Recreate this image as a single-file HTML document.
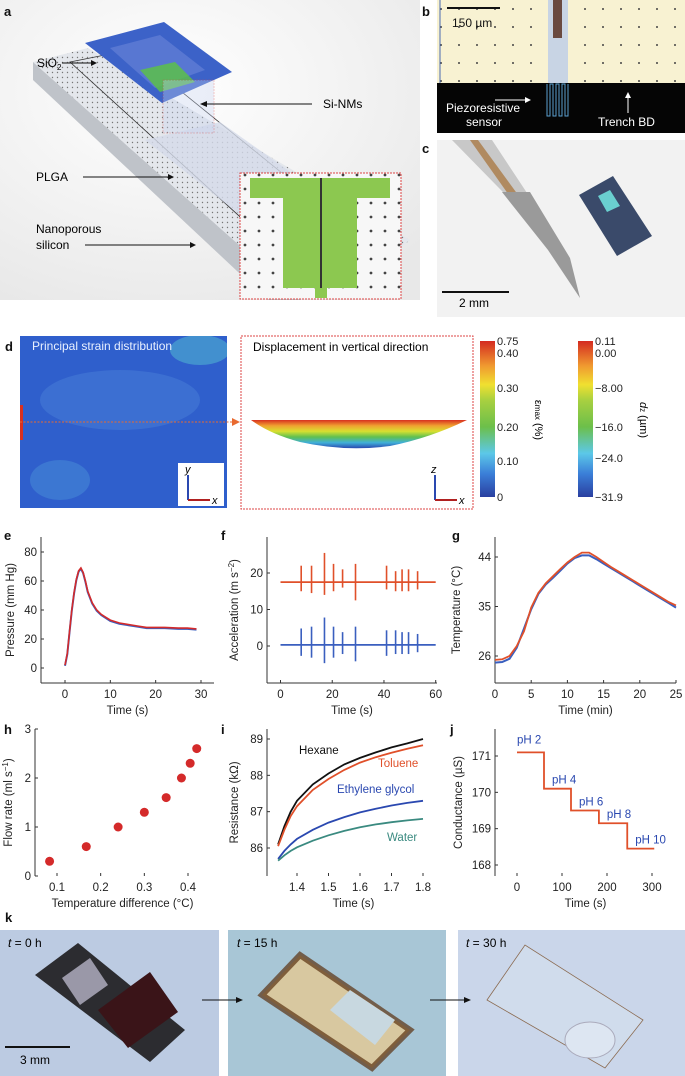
<!DOCTYPE html>
<html><head><meta charset="utf-8">
<style>
html,body{margin:0;padding:0;background:#fff;}
svg{display:block;font-family:"Liberation Sans",sans-serif;}
.tk{font-size:11px;fill:#222;}
.pl{font-size:13px;font-weight:bold;fill:#111;}
</style></head>
<body>
<svg id="fig" width="685" height="1076" viewBox="0 0 685 1076" xmlns="http://www.w3.org/2000/svg">
<defs>
<pattern id="dots" width="5" height="5" patternUnits="userSpaceOnUse"><rect width="5" height="5" fill="#e4e7ec"/><circle cx="2.5" cy="2.5" r="0.7" fill="#777"/></pattern>
<pattern id="dots2" width="14" height="14" patternUnits="userSpaceOnUse"><rect width="14" height="14" fill="#f7f7f7"/><circle cx="7" cy="7" r="1.4" fill="#444"/></pattern>
<pattern id="bdots" width="18" height="18" patternUnits="userSpaceOnUse"><rect width="18" height="18" fill="#f8f2d2"/><circle cx="9" cy="9" r="1" fill="#444"/></pattern>
<linearGradient id="cbar" x1="0" y1="1" x2="0" y2="0">
<stop offset="0" stop-color="#2a3fa0"/><stop offset="0.15" stop-color="#3b7fd8"/><stop offset="0.28" stop-color="#5cc8e8"/><stop offset="0.45" stop-color="#6cbf4a"/><stop offset="0.62" stop-color="#a8d040"/><stop offset="0.72" stop-color="#f0e030"/><stop offset="0.84" stop-color="#f09a30"/><stop offset="1" stop-color="#d42a20"/></linearGradient>
<linearGradient id="bowl" x1="0" y1="0" x2="0" y2="1">
<stop offset="0" stop-color="#d83020"/><stop offset="0.2" stop-color="#f0a030"/><stop offset="0.4" stop-color="#d8e030"/><stop offset="0.6" stop-color="#60c050"/><stop offset="0.8" stop-color="#40b0d8"/><stop offset="1" stop-color="#2a48b0"/></linearGradient>
<radialGradient id="blob" cx="0" cy="0.5" r="0.6"><stop offset="0" stop-color="#e0d040"/><stop offset="0.35" stop-color="#60c050"/><stop offset="0.6" stop-color="#40b8c8"/><stop offset="1" stop-color="#2a5ec8" stop-opacity="0"/></radialGradient>
<radialGradient id="bga" cx="0.4" cy="0.3" r="0.8"><stop offset="0" stop-color="#ffffff"/><stop offset="1" stop-color="#e8e8e8"/></radialGradient>
<clipPath id="mapclip"><rect x="20" y="336" width="207" height="172"/></clipPath>
<clipPath id="aclip"><rect x="0" y="0" width="420" height="300"/></clipPath>
</defs>

<!-- Panel a -->
<g clip-path="url(#aclip)">
<rect x="0" y="0" width="420" height="300" fill="url(#bga)"/>
<text class="pl" x="4" y="16">a</text>
<polygon points="33,62 33,80 300,330 318,315" fill="#bfc3c9"/>
<polygon points="33,62 88,48 410,240 318,315" fill="url(#dots)"/>
<polygon points="70,62 130,50 340,220 282,255" fill="none" stroke="#333" stroke-width="0.8"/>
<polygon points="145,140 220,122 330,200 262,232" fill="#d4dbea" opacity="0.8"/>
<polygon points="85,43 164,22 232,72 162,103" fill="#3c62c8"/>
<polygon points="110,48 160,35 205,70 155,88" fill="#6a86d8" opacity="0.6"/>
<polygon points="140,70 175,62 195,82 160,92" fill="#5cc04a" opacity="0.85"/>
<rect x="163" y="80" width="51" height="53" fill="#c8d4f0" opacity="0.35" stroke="#d44" stroke-dasharray="2,1" stroke-width="0.8"/>
<text x="37" y="67" font-size="12">SiO<tspan font-size="8" dy="3">2</tspan></text>
<line x1="62" y1="63" x2="95" y2="63" stroke="#111"/><polygon points="97,63 91,60 91,66" fill="#111"/>
<text x="323" y="108" font-size="12">Si-NMs</text>
<line x1="312" y1="104" x2="205" y2="104" stroke="#111"/><polygon points="200,104 207,101 207,107" fill="#111"/>
<text x="36" y="181" font-size="12">PLGA</text>
<line x1="83" y1="177" x2="170" y2="177" stroke="#111"/><polygon points="174,177 168,174 168,180" fill="#111"/>
<text x="36" y="233" font-size="12">Nanoporous</text>
<text x="36" y="249" font-size="12">silicon</text>
<line x1="85" y1="245" x2="192" y2="245" stroke="#111"/><polygon points="196,245 190,242 190,248" fill="#111"/>
<g>
<rect x="240" y="173" width="161" height="126" fill="url(#dots2)" stroke="#d44" stroke-dasharray="2,1"/>
<rect x="250" y="178" width="140" height="20" fill="#8cc850"/>
<rect x="283" y="178" width="74" height="110" fill="#8cc850"/>
<rect x="320" y="178" width="2" height="110" fill="#333"/>
<rect x="315" y="288" width="12" height="10" fill="#8cc850"/>
</g>
</g>

<!-- Panel b -->
<g>
<text class="pl" x="422" y="16">b</text>
<rect x="437" y="0" width="248" height="84" fill="url(#bdots)"/>
<rect x="548" y="0" width="20" height="84" fill="#c8d4e4"/>
<rect x="553" y="0" width="9" height="38" fill="#6a4a40"/>
<line x1="440" y1="0" x2="440" y2="84" stroke="#4a6ab0"/>
<rect x="437" y="83" width="248" height="50" fill="#050505"/>
<path d="M547,84 v32 h3 v-32 h3 v32 h3 v-32 h3 v32 h3 v-32 h3 v32 h3 v-32" fill="none" stroke="#5aa0d0" stroke-width="1"/>
<line x1="447" y1="8" x2="500" y2="8" stroke="#111" stroke-width="2"/>
<text x="452" y="27" font-size="12" fill="#111">150 µm</text>
<text x="446" y="112" font-size="12" fill="#fff">Piezoresistive</text>
<text x="466" y="126" font-size="12" fill="#fff">sensor</text>
<line x1="495" y1="100" x2="527" y2="100" stroke="#fff"/><polygon points="531,100 525,97 525,103" fill="#fff"/>
<text x="598" y="126" font-size="12" fill="#fff">Trench BD</text>
<line x1="628" y1="113" x2="628" y2="96" stroke="#fff"/><polygon points="628,92 625,98 631,98" fill="#fff"/>
</g>

<!-- Panel c -->
<g>
<text class="pl" x="422" y="153">c</text>
<rect x="437" y="140" width="248" height="177" fill="#f2f2f2"/>
<polygon points="452,140 492,140 568,255 580,298 540,230" fill="#c8c8c8"/>
<polygon points="470,140 478,140 540,225 530,225" fill="#b08a60"/>
<polygon points="502,192 530,192 570,258 580,298 548,250" fill="#9a9a9a"/>
<polygon points="579,195 613,176 652,236 617,256" fill="#3a4a6a"/>
<polygon points="598,196 610,190 620,206 607,212" fill="#6ad0d0"/>
<line x1="442" y1="292" x2="509" y2="292" stroke="#111" stroke-width="2"/>
<text x="459" y="307" font-size="12">2 mm</text>
</g>

<!-- Panel d -->
<g>
<text class="pl" x="5" y="351">d</text>
<g clip-path="url(#mapclip)">
<rect x="20" y="336" width="207" height="172" fill="#2f5fcc"/>
<ellipse cx="120" cy="400" rx="80" ry="30" fill="#4a80d8" opacity="0.5"/>
<ellipse cx="200" cy="350" rx="30" ry="15" fill="#50b0d0" opacity="0.6"/>
<ellipse cx="60" cy="480" rx="30" ry="20" fill="#4a90d8" opacity="0.5"/>
<ellipse cx="20" cy="422" rx="28" ry="40" fill="url(#blob)"/>
<rect x="20" y="405" width="3" height="35" fill="#d83020"/>
</g>
<text x="32" y="350" font-size="12" fill="#e8f0ff">Principal strain distribution</text>
<rect x="178" y="463" width="46" height="43" fill="#fff"/>
<line x1="188" y1="500" x2="188" y2="475" stroke="#2a48b0" stroke-width="2"/><line x1="188" y1="500" x2="210" y2="500" stroke="#b02020" stroke-width="2"/>
<text x="185" y="473" font-size="11" font-style="italic">y</text><text x="212" y="504" font-size="11" font-style="italic">x</text>
<line x1="20" y1="422" x2="232" y2="422" stroke="#e86a30" stroke-dasharray="2,1.5"/>
<polygon points="240,422 232,418 232,426" fill="#e86a30"/>
<rect x="241" y="336" width="232" height="173" fill="#fff" stroke="#d44" stroke-dasharray="2,1"/>
<text x="253" y="351" font-size="12">Displacement in vertical direction</text>
<path d="M251,420 L467,420 Q430,438 390,446 Q345,452 300,442 Q270,434 251,420 Z" fill="url(#bowl)"/>
<line x1="435" y1="500" x2="435" y2="475" stroke="#2a48b0" stroke-width="2"/><line x1="435" y1="500" x2="457" y2="500" stroke="#b02020" stroke-width="2"/>
<text x="431" y="473" font-size="11" font-style="italic">z</text><text x="459" y="504" font-size="11" font-style="italic">x</text>
<g>
<rect x="480" y="341" width="15" height="156" fill="url(#cbar)"/>
<text class="tk" x="497" y="345">0.75</text><text class="tk" x="497" y="357">0.40</text>
<text class="tk" x="497" y="392">0.30</text><text class="tk" x="497" y="431">0.20</text>
<text class="tk" x="497" y="465">0.10</text><text class="tk" x="497" y="501">0</text>
<text x="535" y="420" font-size="11" transform="rotate(90 535 420)" text-anchor="middle">ε<tspan font-size="8">max</tspan> (%)</text>
</g>
<g>
<rect x="578" y="341" width="15" height="156" fill="url(#cbar)"/>
<text class="tk" x="595" y="345">0.11</text><text class="tk" x="595" y="357">0.00</text>
<text class="tk" x="595" y="392">−8.00</text><text class="tk" x="595" y="431">−16.0</text>
<text class="tk" x="595" y="462">−24.0</text><text class="tk" x="595" y="501">−31.9</text>
<text x="640" y="420" font-size="11" transform="rotate(90 640 420)" text-anchor="middle"><tspan font-style="italic">d</tspan><tspan font-size="8">z</tspan> (µm)</text>
</g>
</g>

<g id="charts"></g>

<!-- Panel k -->
<g>
<text class="pl" x="5" y="922">k</text>
<rect x="0" y="930" width="219" height="146" fill="#bccbe2"/>
<polygon points="35,975 78,943 185,1030 150,1062" fill="#2c2c30"/>
<polygon points="98,1010 150,972 178,1012 128,1048" fill="#3a1418"/>
<polygon points="62,978 90,958 108,985 80,1005" fill="#9a98a8"/>
<rect x="5" y="1046" width="65" height="2" fill="#111"/>
<text x="20" y="1064" font-size="12">3 mm</text>
<text x="8" y="947" font-size="12"><tspan font-style="italic">t</tspan> = 0 h</text>
<rect x="228" y="930" width="218" height="146" fill="#a8c6d6"/>
<polygon points="262,995 300,955 410,1030 372,1068" fill="#d8c8a0" stroke="#5a3010" stroke-width="6" stroke-opacity="0.7"/>
<polygon points="330,1010 350,990 395,1020 375,1045" fill="#c8d8e0"/>
<text x="237" y="947" font-size="12"><tspan font-style="italic">t</tspan> = 15 h</text>
<rect x="458" y="930" width="227" height="146" fill="#cad6ea"/>
<polygon points="487,1000 525,945 643,1020 605,1068" fill="#d0dcec" stroke="#8a6a50" stroke-width="0.8"/>
<ellipse cx="590" cy="1040" rx="25" ry="18" fill="#dde6f2" stroke="#aab"/>
<text x="466" y="947" font-size="12"><tspan font-style="italic">t</tspan> = 30 h</text>
<line x1="202" y1="1000" x2="238" y2="1000" stroke="#111"/><polygon points="243,1000 236,997 236,1003" fill="#111"/>
<line x1="430" y1="1000" x2="466" y2="1000" stroke="#111"/><polygon points="471,1000 464,997 464,1003" fill="#111"/>
</g>
</svg>
<script>
// ---- data ----
const eTime = [0,0.5,1,1.5,2,2.5,3,3.5,4,4.5,5,6,7,8,9,10,12,14,16,18,20,22,25,27,29];
const ePressure = [2,10,25,40,52,61,67,69,66,60,53,45,40,37,35,33,31,30,29,28,28,28,27.5,27.5,27];
const eTicksX = [0,10,20,30];
const eTicksY = [0,20,40,60,80];
const fSpikeTimes = [8,12,17,20.5,24,29,41,44.5,47,49.5,53];
const fRedUp = [4.5,4.5,8,5,3.5,5,4.5,3,3.5,3.5,3];
const fRedDown = [2.5,3,3.5,2.5,1.5,5,2,2.5,2.5,2.5,2];
const fBlueUp = [4.5,5,7.5,5,3.5,5,4,4,3.5,3.5,3];
const fBlueDown = [3,3.5,5,3.5,2.5,4.5,3,2.5,2.5,2.5,2];
const fRedBase = 17.5;
const fBlueBase = 0.3;
const fTicksX = [0,20,40,60];
const fTicksY = [0,10,20];
const gTime = [0,1,2,3,4,5,6,7,8,9,10,11,12,13,14,15,16,17,18,19,20,21,22,23,24,25];
const gBlue = [24.8,24.9,25.5,27.5,31,34.5,37.3,39,40.2,41.5,42.8,43.8,44.3,44.3,43.6,42.8,42,41.2,40.4,39.6,38.8,38,37.2,36.4,35.6,34.8];
const gRed = [25.3,25.4,26,27.8,30.5,34.8,37.5,39.2,40.5,41.8,43,44,44.8,44.8,44,43.1,42.2,41.4,40.6,39.8,39,38.2,37.4,36.6,35.8,35.2];
const gTicksX = [0,5,10,15,20,25];
const gTicksY = [26,35,44];
const hTemp = [0.083,0.167,0.24,0.30,0.35,0.385,0.405,0.42];
const hFlow = [0.3,0.6,1.0,1.3,1.6,2.0,2.3,2.6];
const hTicksX = [0.1,0.2,0.3,0.4];
const hTicksY = [0,1,2,3];
const iTime = [1.34,1.36,1.38,1.4,1.45,1.5,1.55,1.6,1.65,1.7,1.75,1.8];
const iHexane = [86.1,86.6,87.0,87.3,87.75,88.05,88.3,88.48,88.63,88.77,88.88,89.0];
const iToluene = [86.05,86.5,86.88,87.15,87.6,87.9,88.15,88.35,88.5,88.62,88.73,88.83];
const iGlycol = [85.7,85.92,86.1,86.25,86.5,86.7,86.85,86.98,87.08,87.17,87.24,87.3];
const iWater = [85.65,85.8,85.92,86.02,86.2,86.35,86.47,86.57,86.65,86.71,86.76,86.8];
const iTicksX = [1.4,1.5,1.6,1.7,1.8];
const iTicksY = [86,87,88,89];
const jStepStart = [0,60,120,182,245];
const jStepEnd = [60,120,182,245,305];
const jLevels = [171.1,170.1,169.5,169.15,168.45];
const jLabels = ["pH 2","pH 4","pH 6","pH 8","pH 10"];
const jTicksX = [0,100,200,300];
const jTicksY = [168,169,170,171];

const NS = "http://www.w3.org/2000/svg";
const root = document.getElementById('charts');
function mk(tag, attrs, parent){const e=document.createElementNS(NS,tag);for(const k in attrs)e.setAttribute(k,attrs[k]);(parent||root).appendChild(e);return e;}
function lin(d0,d1,r0,r1){return v=>r0+(v-d0)*(r1-r0)/(d1-d0);}
function txt(x,y,s,anchor,parent,extra){const t=mk('text',Object.assign({x:x,y:y,'font-size':11,'text-anchor':anchor||'start',fill:'#222'},extra||{}),parent);t.textContent=s;return t;}
function axes(g,xs,ys,x0,x1,y0,y1,tx,ty,xAxis,xTitle,yTitle,ytx,fmtX){
  mk('line',{x1:x0,y1:y0,x2:x0,y2:y1,stroke:'#333'},g);
  if(xAxis) mk('line',{x1:x0,y1:y1,x2:x1,y2:y1,stroke:'#333'},g);
  tx.forEach(v=>{mk('line',{x1:xs(v),y1:y1,x2:xs(v),y2:y1-3,stroke:'#333'},g);txt(xs(v),y1+15,fmtX?fmtX(v):String(v),'middle',g,{'font-size':11.5});});
  ty.forEach(v=>{mk('line',{x1:x0,y1:ys(v),x2:x0+3,y2:ys(v),stroke:'#333'},g);txt(x0-4,ys(v)+4,String(v),'end',g,{'font-size':11.5});});
  txt((x0+x1)/2,y1+31,xTitle,'middle',g,{'font-size':11.5});
  const t=txt(ytx,(y0+y1)/2,'', 'middle',g,{'font-size':11.5,transform:`rotate(-90 ${ytx} ${(y0+y1)/2})`});t.innerHTML=yTitle;
}
function path(g,xs,ys,X,Y,col,w){let d='';X.forEach((v,i)=>{d+=(i?'L':'M')+xs(v).toFixed(1)+','+ys(Y[i]).toFixed(1);});return mk('path',{d:d,fill:'none',stroke:col,'stroke-width':w||1.6},g);}
function label(g,x,y,s){const t=mk('text',{x:x,y:y,'font-size':13,'font-weight':'bold',fill:'#111'},g);t.textContent=s;}

// e
{const g=mk('g',{});


const xs=lin(0,30,65,201), ys=lin(0,80,668,552);
label(g,4,540,'e');
axes(g,xs,ys,41,214,537,683,eTicksX,eTicksY,true,'Time (s)','Pressure (mm Hg)',14);
const pb=path(g,xs,ys,eTime,ePressure.map(v=>v-0.5),'#3a5fbf',2);


const pr=path(g,xs,ys,eTime,ePressure,'#d42a2a',1.6);

}

// f
{const g=mk('g',{});


const xs=lin(0,60,280.5,435.7), ys=lin(0,10,646,609.5);
label(g,221,540,'f');
axes(g,xs,ys,267,437,537,683,fTicksX,fTicksY,true,'Time (s)','Acceleration (m s<tspan font-size="8" dy="-4">−2</tspan><tspan dy="4">)</tspan>',238);
[[fRedBase,fRedUp,fRedDown,'#e0502a','acc-red'],[fBlueBase,fBlueUp,fBlueDown,'#3a5fbf','acc-blue']].forEach(s=>{
 const base=mk('line',{x1:xs(0),y1:ys(s[0]),x2:xs(60),y2:ys(s[0]),stroke:s[3],'stroke-width':1.8},g);
 
 
 fSpikeTimes.forEach((t,i)=>{const sp=mk('line',{x1:xs(t),y1:ys(s[0]+s[1][i]),x2:xs(t),y2:ys(s[0]-s[2][i]),stroke:s[3],'stroke-width':1.6},g);
 
 });
});}

// g
{const g=mk('g',{});


const xs=lin(0,25,495,676), ys=lin(26,44,656,557);
label(g,452,540,'g');
axes(g,xs,ys,495,676,537,683,gTicksX,gTicksY,true,'Time (min)','Temperature (°C)',460);
const b=path(g,xs,ys,gTime,gBlue,'#3a5fbf',2);


const r=path(g,xs,ys,gTime,gRed,'#e0502a',1.8);

}

// h
{const g=mk('g',{});


const xs=lin(0.1,0.4,57,188), ys=lin(0,3,876,729);
label(g,4,734,'h');
axes(g,xs,ys,35,210,729,876,hTicksX,hTicksY,false,'Temperature difference (°C)','Flow rate (ml s<tspan font-size="8" dy="-4">−1</tspan><tspan dy="4">)</tspan>',12);
hTemp.forEach((t,i)=>{const c=mk('circle',{cx:xs(t),cy:ys(hFlow[i]),r:4.5,fill:'#d42a2a'},g);

});}

// i
{const g=mk('g',{});


const xs=lin(1.4,1.8,297,423), ys=lin(86,89,848,739);
label(g,221,734,'i');
axes(g,xs,ys,267,440,729,876,iTicksX,iTicksY,false,'Time (s)','Resistance (kΩ)',238);
[[iHexane,'#111','hexane-line'],[iToluene,'#e0502a','toluene-line'],[iGlycol,'#2a48b0','glycol-line'],[iWater,'#3a8a80','water-line']].forEach(s=>{
 const p=path(g,xs,ys,iTime,s[0],s[1],1.8);
 
 });
txt(299,754,'Hexane','start',g,{'font-size':11.5,fill:'#111'});
txt(378,767,'Toluene','start',g,{'font-size':11.5,fill:'#e0502a'});
txt(337,793,'Ethylene glycol','start',g,{'font-size':11.5,fill:'#2a48b0'});
txt(387,841,'Water','start',g,{'font-size':11.5,fill:'#3a8a80'});}

// j
{const g=mk('g',{});


const xs=lin(0,100,517,562), ys=lin(168,171,865,756);
label(g,450,734,'j');
axes(g,xs,ys,495,676,729,876,jTicksX,jTicksY,false,'Time (s)','Conductance (µS)',462);
let d='';jLevels.forEach((v,i)=>{d+=(i?'L':'M')+xs(jStepStart[i])+','+ys(v)+'L'+xs(jStepEnd[i])+','+ys(v);});
const p=mk('path',{d:d,fill:'none',stroke:'#e0502a','stroke-width':1.8},g);


jLabels.forEach((s,i)=>{const t=txt(xs(jStepStart[i])+(i?8:0),ys(jLevels[i])-5-(i?0:4),s,'start',g,{'font-size':11.5,fill:'#2a48b0'});

});}
</script>
</body></html>
